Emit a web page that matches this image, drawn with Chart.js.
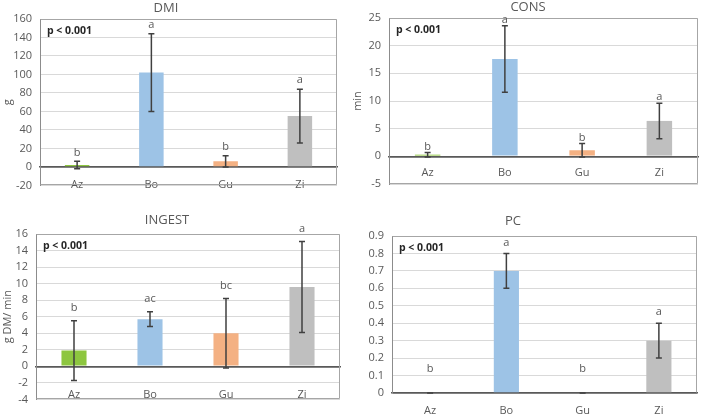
<!DOCTYPE html>
<html><head><meta charset="utf-8">
<script src="https://cdn.jsdelivr.net/npm/chart.js@4/dist/chart.umd.min.js"></script>
<style>
html,body{margin:0;padding:0;background:#fff;width:702px;height:414px;overflow:hidden;}
canvas{position:absolute;}
</style></head><body>
<canvas id="c1" width="342" height="200" style="left:0;top:0"></canvas>
<canvas id="c2" width="352" height="200" style="left:350px;top:0"></canvas>
<canvas id="c3" width="345" height="214" style="left:0;top:200px"></canvas>
<canvas id="c4" width="352" height="214" style="left:350px;top:200px"></canvas>
<script>
// ---- data ----
const categories = ['Az', 'Bo', 'Gu', 'Zi'];
const barColors = ['#8DC63F', '#9DC3E6', '#F4B183', '#BFBFBF'];
const pText = 'p < 0.001';

const dmiTitle = 'DMI', dmiUnit = 'g';
const dmiMeans = [2, 102, 6, 55];
const dmiErr = [4, 42, 6, 29];
const dmiLetters = ['b', 'a', 'b', 'a'];
const dmiTicks = [-20, 160, 20]; // min, max, step

const consTitle = 'CONS', consUnit = 'min';
const consMeans = [0.3, 17.6, 1.1, 6.4];
const consErr = [0.4, 6.0, 1.2, 3.2];
const consLetters = ['b', 'a', 'b', 'a'];
const consTicks = [-5, 25, 5];

const ingestTitle = 'INGEST', ingestUnit = 'g DM/ min';
const ingestMeans = [1.9, 5.7, 4.0, 9.6];
const ingestErr = [3.6, 0.9, 4.2, 5.5];
const ingestLetters = ['b', 'ac', 'bc', 'a'];
const ingestTicks = [-4, 16, 2];

const pcTitle = 'PC', pcUnit = '';
const pcMeans = [0, 0.7, 0, 0.3];
const pcErr = [0, 0.1, 0, 0.1];
const pcLetters = ['b', 'a', 'b', 'a'];
const pcTicks = [0, 0.9, 0.1];

// ---- drawing ----
const FONT = '"Open Sans", "Liberation Sans", sans-serif';
const GRAY = '#595959';

const deco = {
  id: 'deco',
  beforeDatasetsDraw(chart) {
    const o = chart.options.plugins.deco;
    const {ctx, chartArea: a} = chart;
    ctx.save();
    ctx.strokeStyle = '#A6A6A6';
    ctx.lineWidth = 1;
    const L = Math.round(a.left) + 0.5, R = Math.round(a.right) - 0.5;
    const T = Math.round(a.top) + 0.5, B = Math.round(a.bottom) - 0.5;
    ctx.beginPath();
    ctx.moveTo(L, T); ctx.lineTo(R, T); ctx.lineTo(R, B);
    if (o.boxBottom) ctx.lineTo(L, B);
    ctx.stroke();
    ctx.restore();
  },
  afterDatasetsDraw(chart) {
    const o = chart.options.plugins.deco;
    const {ctx, chartArea: a, scales: {x, y}} = chart;
    ctx.save();
    // error bars
    ctx.strokeStyle = '#404040';
    ctx.lineWidth = 1.5;
    o.means.forEach((m, i) => {
      const px = x.getPixelForValue(i);
      const y1 = y.getPixelForValue(m + o.errs[i]);
      const y2 = y.getPixelForValue(m - o.errs[i]);
      ctx.beginPath();
      ctx.moveTo(px, y1); ctx.lineTo(px, y2);
      ctx.moveTo(px - 3, y1); ctx.lineTo(px + 3, y1);
      ctx.moveTo(px - 3, y2); ctx.lineTo(px + 3, y2);
      ctx.stroke();
    });
    // letters
    ctx.fillStyle = GRAY;
    ctx.font = '11px ' + FONT;
    ctx.textAlign = 'center';
    ctx.textBaseline = 'middle';
    o.letters.forEach((t, i) => {
      const px = x.getPixelForValue(i);
      const top = y.getPixelForValue(o.means[i] + o.errs[i]);
      ctx.fillText(t, px, top - (o.errs[i] === 0 ? 24 : o.letterGap));
    });
    // p value
    ctx.fillStyle = '#262626';
    ctx.font = 'bold 10.5px ' + FONT;
    ctx.textAlign = 'left';
    ctx.fillText(pText, a.left + 7, a.top + 12);
    // title
    ctx.fillStyle = GRAY;
    ctx.font = '13px ' + FONT;
    ctx.textAlign = 'center';
    ctx.fillText(o.title, o.titleX, o.titleY);
    ctx.restore();
  }
};

function makePanel(id, p) {
  const [ymin, ymax, step] = p.ticks;
  const xScale = {
    grid: {display: false, drawTicks: false},
    border: {display: true, color: GRAY, width: 1.5},
    ticks: {color: GRAY, font: {family: FONT, size: 11}, padding: p.xPad, maxRotation: 0}
  };
  if (ymin < 0) xScale.position = {y: 0};
  else xScale.afterFit = s => { s.height = p.xHeight; };
  new Chart(document.getElementById(id), {
    type: 'bar',
    data: {
      labels: categories,
      datasets: [{
        data: p.means,
        backgroundColor: barColors,
        borderWidth: 0,
        barPercentage: 0.33,
        categoryPercentage: 1
      }]
    },
    options: {
      responsive: false,
      animation: false,
      layout: {padding: {top: p.top, right: p.right, bottom: p.bottom, left: 0}},
      plugins: {
        legend: {display: false},
        tooltip: {enabled: false},
        deco: {means: p.means, errs: p.errs, letters: p.letters, title: p.title,
               titleX: p.titleX, titleY: p.titleY, letterGap: p.letterGap, boxBottom: ymin < 0}
      },
      scales: {
        x: xScale,
        y: {
          min: ymin, max: ymax,
          afterFit: s => { s.width = p.left; },
          ticks: {stepSize: step, color: GRAY, font: {family: FONT, size: 11}, padding: 8},
          grid: {
            drawTicks: false,
            color: c => c.tick && c.tick.value === 0 ? GRAY : '#D9D9D9',
            lineWidth: c => c.tick && c.tick.value === 0 ? 1.5 : 1
          },
          border: {display: true, color: '#8C8C8C', width: 1},
          title: {display: !!p.unit, text: p.unit, color: GRAY,
                  font: {family: FONT, size: 11}, padding: {top: 1, bottom: 0}}
        }
      }
    },
    plugins: [deco]
  });
}

makePanel('c1', {means: dmiMeans, errs: dmiErr, letters: dmiLetters, ticks: dmiTicks,
  title: dmiTitle, unit: dmiUnit, left: 40, right: 5, top: 19, bottom: 11,
  xPad: 11, titleX: 166, titleY: 8, letterGap: 9});
makePanel('c2', {means: consMeans, errs: consErr, letters: consLetters, ticks: consTicks,
  title: consTitle, unit: consUnit, left: 39, right: 4, top: 18, bottom: 16,
  xPad: 10, titleX: 178, titleY: 7, letterGap: 6});
makePanel('c3', {means: ingestMeans, errs: ingestErr, letters: ingestLetters, ticks: ingestTicks,
  title: ingestTitle, unit: ingestUnit, left: 36, right: 5, top: 34, bottom: 11,
  xPad: 22, titleX: 167, titleY: 20, letterGap: 13});
makePanel('c4', {means: pcMeans, errs: pcErr, letters: pcLetters, ticks: pcTicks,
  title: pcTitle, unit: pcUnit, left: 42, right: 5, top: 36, bottom: 0,
  xPad: 11, xHeight: 21, titleX: 163, titleY: 21, letterGap: 11});
</script>
</body></html>
